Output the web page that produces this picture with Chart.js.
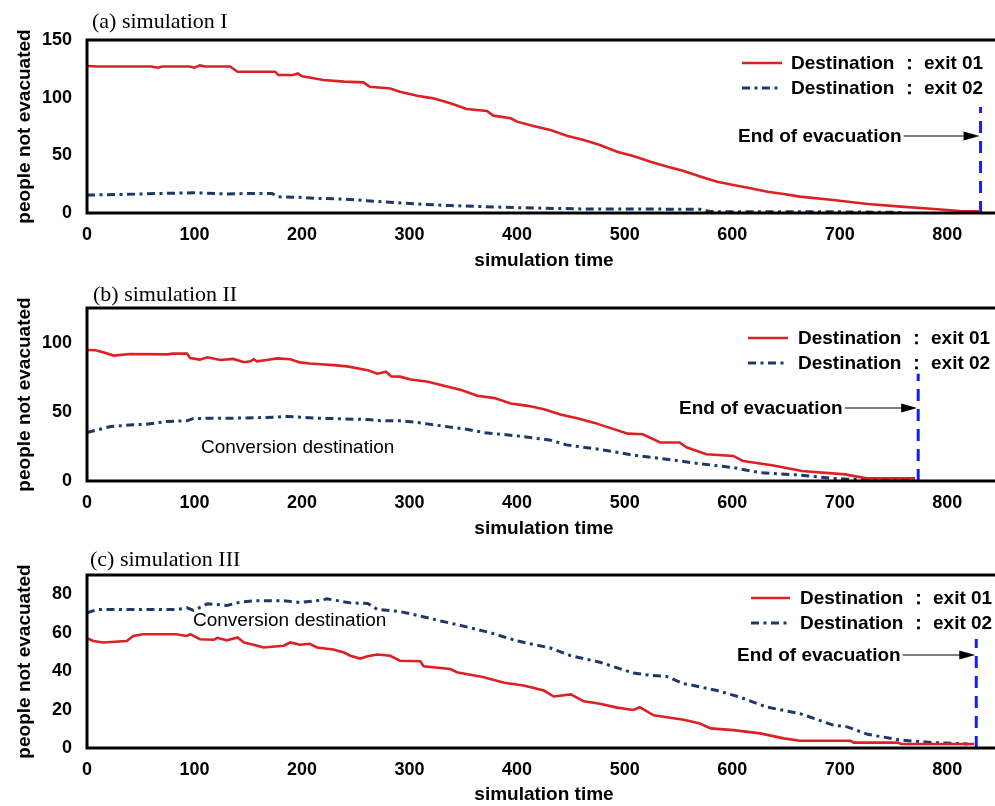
<!DOCTYPE html>
<html>
<head>
<meta charset="utf-8">
<script src="https://cdn.jsdelivr.net/npm/chart.js@4.4.1/dist/chart.umd.min.js"></script>
<style>
  html, body { margin: 0; padding: 0; background: #fff; overflow: hidden; width: 995px; height: 806px; }
  canvas.panel { position: absolute; left: 0; }
</style>
</head>
<body>
<canvas id="simA" class="panel" style="top:0px" width="1001" height="272"></canvas>
<canvas id="simB" class="panel" style="top:272px" width="1001" height="268"></canvas>
<canvas id="simC" class="panel" style="top:540px" width="1001" height="266"></canvas>
<script>
// ---- shared axis ticks ----
const X_TICKS = [0, 100, 200, 300, 400, 500, 600, 700, 800];
const Y_TICKS_A = [0, 50, 100, 150];
const Y_TICKS_B = [0, 50, 100];
const Y_TICKS_C = [0, 20, 40, 60, 80];

const SERIES_NAMES = ['Destination \uFF1A exit 01', 'Destination \uFF1A exit 02'];

// ---- simulation I ----
const T_A_EXIT1 = [0, 10, 60, 66, 70, 95, 100, 105, 110, 133, 140, 175, 178, 192, 196, 200, 208, 220, 239, 257, 263, 282, 291, 307, 322, 338, 353, 372, 378, 394, 400, 415, 431, 447, 462, 477, 493, 508, 524, 540, 555, 571, 586, 601, 617, 633, 648, 663, 694, 726, 757, 788, 812, 831];
const V_A_EXIT1 = [127.5, 127, 127, 126, 127, 127, 126, 128, 127, 127, 122.5, 122.5, 119.6, 119.6, 121, 118.5, 117.3, 115.3, 113.9, 113.3, 109.5, 108, 105.2, 101.7, 99.4, 95.1, 90.2, 88.4, 84.4, 82.1, 79.2, 75.4, 72, 66.8, 63.3, 59, 53.2, 49.5, 44.5, 40.1, 36.4, 31.5, 27, 24.3, 21.4, 18.5, 16.5, 14.2, 11.3, 7.8, 5.5, 3.5, 1.7, 1.5];
const T_A_EXIT2 = [0, 30, 70, 100, 130, 150, 172, 178, 200, 214, 240, 260, 286, 307, 338, 369, 400, 462, 570, 580, 700, 757];
const V_A_EXIT2 = [15.6, 16, 17, 17.5, 16.5, 17, 17, 14, 13.5, 12.7, 12, 10.7, 9, 7.8, 6.4, 5.5, 4.6, 3.5, 3.3, 1.2, 1, 0.5];
const END_A = 831;
const END_TOP_A = 92;

// ---- simulation II ----
const T_B_EXIT1 = [0, 8, 15, 25, 40, 75, 80, 93, 96, 105, 112, 124, 136, 146, 152, 155, 158, 167, 177, 189, 198, 207, 214, 229, 242, 255, 261, 270, 278, 283, 291, 301, 317, 332, 348, 363, 379, 394, 410, 425, 441, 456, 472, 487, 503, 517, 533, 551, 558, 576, 601, 610, 637, 665, 705, 725, 770];
const V_B_EXIT1 = [94.7, 94.5, 93, 90.6, 91.8, 91.5, 92, 92, 88.9, 87.7, 89.4, 87.4, 88.2, 85.8, 86.5, 88, 86.5, 87.4, 88.6, 88, 85.7, 84.9, 84.5, 83.7, 82.8, 80.9, 80.1, 77.5, 79, 75.6, 75.4, 73.4, 71.7, 68.8, 65.7, 61.6, 59.9, 56, 54.3, 51.9, 47.8, 45.4, 42, 38.2, 34.2, 33.8, 27.8, 27.8, 24.2, 19.3, 18.1, 14.5, 11.4, 7.2, 4.8, 1.9, 1.9];
const T_B_EXIT2 = [0, 22, 43, 55, 74, 93, 99, 136, 167, 186, 214, 261, 273, 291, 307, 322, 353, 369, 400, 431, 446, 477, 508, 539, 570, 601, 626, 663, 694, 725, 770];
const V_B_EXIT2 = [35, 39.4, 40.6, 41, 43, 43.5, 45.2, 45.4, 45.9, 46.6, 45.4, 44.4, 43.5, 43.5, 42.3, 40.6, 37.4, 35, 32.6, 29.5, 26.1, 22.8, 18.7, 15.7, 12.5, 9.7, 6, 4.3, 1.9, 0.7, 0.3];
const END_B = 773;
const END_TOP_B = 77.5;

// ---- simulation III ----
const T_C_EXIT1 = [0, 6, 15, 37, 43, 52, 83, 93, 96, 105, 118, 121, 130, 140, 146, 155, 164, 183, 189, 198, 207, 214, 229, 239, 245, 254, 261, 270, 282, 291, 310, 313, 338, 344, 369, 388, 406, 425, 434, 450, 462, 477, 493, 508, 514, 527, 555, 570, 580, 601, 626, 648, 663, 710, 713, 754, 757, 825];
const V_C_EXIT1 = [57.1, 55.7, 54.9, 55.7, 58.3, 59.2, 59.2, 58.3, 59.2, 56.6, 56.3, 57.3, 56, 57.5, 54.9, 53.7, 52.3, 53.2, 54.9, 53.7, 54.2, 52.3, 51.2, 49.7, 48, 46.5, 47.7, 48.6, 48, 45.4, 45.1, 42.5, 41.1, 39.4, 36.8, 33.9, 32.5, 29.9, 26.8, 27.9, 24.3, 23, 21, 19.8, 21.2, 17, 14.7, 12.7, 10.2, 9.3, 7.6, 5, 3.8, 3.8, 2.8, 2.8, 2.1, 2.1];
const T_C_EXIT2 = [0, 9, 83, 93, 99, 112, 130, 143, 155, 183, 198, 217, 223, 245, 261, 270, 291, 307, 329, 353, 375, 400, 431, 450, 477, 508, 524, 539, 555, 561, 586, 607, 632, 663, 694, 707, 726, 757, 788, 819];
const V_C_EXIT2 = [70.3, 72, 72, 72.9, 71.6, 75, 74.2, 75.9, 76.6, 76.6, 75.7, 76.8, 77.6, 75.5, 75.2, 72.1, 71, 69, 66.1, 63, 60, 55.7, 52, 48, 44.6, 39, 37.8, 37.2, 33.4, 32.9, 29.9, 26.5, 21.3, 17.9, 11.9, 11, 7.1, 4.1, 2.8, 2.1];
const END_C = 827;
const END_TOP_C = 56.7;

// ---- styling ----
const RED = 'rgb(221,32,36)';
const NAVY = 'rgb(30,56,104)';
const END_BLUE = 'rgb(20,30,245)';
const DASH_DOT = [8, 4.5, 3, 4.5];
const SANS = '"Liberation Sans", Arial, sans-serif';
const SERIF = '"Liberation Serif", "Times New Roman", serif';

function pairs(ts, vs) { return ts.map((t, i) => ({ x: t, y: vs[i] })); }

// frame, panel title, legend, arrow note and free text
function decoPlugin(cfg) {
  return {
    id: 'deco',
    afterDraw(chart) {
      const ctx = chart.ctx;
      const a = chart.chartArea;
      ctx.save();
      // frame around plot area
      ctx.strokeStyle = '#000';
      ctx.lineWidth = 3;
      ctx.strokeRect(a.left, a.top, a.right - a.left, a.bottom - a.top);

      // panel title
      ctx.fillStyle = '#000';
      ctx.font = '22px ' + SERIF;
      ctx.textBaseline = 'middle';
      ctx.textAlign = 'left';
      ctx.fillText(cfg.title, cfg.titleX, cfg.titleY);

      // legend
      ctx.font = 'bold 19px ' + SANS;
      const lg = cfg.legend;
      [0, 1].forEach(i => {
        const y = lg.y0 + i * lg.dy;
        ctx.beginPath();
        ctx.lineWidth = i === 0 ? 2.6 : 3;
        ctx.strokeStyle = i === 0 ? RED : NAVY;
        ctx.setLineDash(i === 0 ? [] : DASH_DOT);
        ctx.moveTo(lg.x0, y);
        ctx.lineTo(lg.x1, y);
        ctx.stroke();
        ctx.setLineDash([]);
        ctx.fillStyle = '#000';
        ctx.fillText(SERIES_NAMES[i], lg.tx, y + 1);
      });

      // end-of-evacuation note with arrow
      const n = cfg.note;
      ctx.font = 'bold 19px ' + SANS;
      ctx.fillText('End of evacuation', n.x, n.y + 1);
      const w = ctx.measureText('End of evacuation').width;
      const xs = n.x + w + 2;
      const xe = chart.scales.x.getPixelForValue(cfg.end) - 1;
      ctx.beginPath();
      ctx.strokeStyle = '#000';
      ctx.lineWidth = 1.2;
      ctx.moveTo(xs, n.y);
      ctx.lineTo(xe - 12, n.y);
      ctx.stroke();
      ctx.beginPath();
      ctx.fillStyle = '#000';
      ctx.moveTo(xe, n.y);
      ctx.lineTo(xe - 16, n.y - 4.5);
      ctx.lineTo(xe - 16, n.y + 4.5);
      ctx.closePath();
      ctx.fill();

      // free text
      if (cfg.conv) {
        ctx.font = '19px ' + SANS;
        ctx.fillText('Conversion destination', cfg.conv.x, cfg.conv.y);
      }
      ctx.restore();
    }
  };
}

function makePanel(id, p) {
  return new Chart(document.getElementById(id), {
    type: 'line',
    data: {
      datasets: [
        { data: pairs(p.t1, p.v1), borderColor: RED, borderWidth: 2.6, pointRadius: 0, tension: 0 },
        { data: pairs(p.t2, p.v2), borderColor: NAVY, borderWidth: 3, borderDash: DASH_DOT, pointRadius: 0, tension: 0 },
        { data: [{ x: p.end, y: 0 }, { x: p.end, y: p.endTop }], borderColor: END_BLUE, borderWidth: 3, borderDash: [12, 8], pointRadius: 0 }
      ]
    },
    options: {
      responsive: false,
      animation: false,
      layout: { padding: { top: p.padTop, bottom: 0, left: 0, right: 0 } },
      plugins: { legend: { display: false }, tooltip: { enabled: false }, title: { display: false } },
      scales: {
        x: {
          type: 'linear', min: 0, max: 850,
          grid: { display: false, drawTicks: false },
          border: { display: false },
          afterBuildTicks: s => { s.ticks = X_TICKS.map(v => ({ value: v })); },
          afterFit: s => { s.height = p.xHeight; },
          ticks: { padding: 11, color: '#000', font: { family: SANS, size: 18, weight: 'bold' } },
          title: { display: true, text: 'simulation time', color: '#000', padding: { top: 0, bottom: 0 },
                   font: { family: SANS, size: 19, weight: 'bold' } }
        },
        y: {
          type: 'linear', min: 0, max: p.yMax,
          grid: { display: false, drawTicks: false },
          border: { display: false },
          afterBuildTicks: s => { s.ticks = p.yTicks.map(v => ({ value: v })); },
          afterFit: s => { s.width = 87; },
          ticks: { padding: 15, color: '#000', font: { family: SANS, size: 18, weight: 'bold' } },
          title: { display: true, text: 'people not evacuated', color: '#000', padding: { top: 13, bottom: 0 },
                   font: { family: SANS, size: 19, weight: 'bold' } }
        }
      }
    },
    plugins: [decoPlugin(p.deco)]
  });
}

makePanel('simA', {
  t1: T_A_EXIT1, v1: V_A_EXIT1, t2: T_A_EXIT2, v2: V_A_EXIT2, end: END_A, endTop: END_TOP_A,
  yMax: 150, yTicks: Y_TICKS_A, padTop: 40, xHeight: 59,
  deco: { title: '(a) simulation I', titleX: 92, titleY: 22, end: END_A,
          legend: { x0: 742, x1: 782, tx: 791, y0: 63, dy: 25 },
          note: { x: 738, y: 136 } }
});
makePanel('simB', {
  t1: T_B_EXIT1, v1: V_B_EXIT1, t2: T_B_EXIT2, v2: V_B_EXIT2, end: END_B, endTop: END_TOP_B,
  yMax: 125, yTicks: Y_TICKS_B, padTop: 36, xHeight: 59,
  deco: { title: '(b) simulation II', titleX: 93, titleY: 23, end: END_B,
          legend: { x0: 748, x1: 788, tx: 798, y0: 66, dy: 25 },
          note: { x: 679, y: 136 }, conv: { x: 201, y: 176 } }
});
makePanel('simC', {
  t1: T_C_EXIT1, v1: V_C_EXIT1, t2: T_C_EXIT2, v2: V_C_EXIT2, end: END_C, endTop: END_TOP_C,
  yMax: 90, yTicks: Y_TICKS_C, padTop: 35, xHeight: 58,
  deco: { title: '(c) simulation III', titleX: 90, titleY: 20, end: END_C,
          legend: { x0: 751, x1: 790, tx: 800, y0: 58, dy: 25 },
          note: { x: 737, y: 115 }, conv: { x: 193, y: 81 } }
});
</script>
</body>
</html>
